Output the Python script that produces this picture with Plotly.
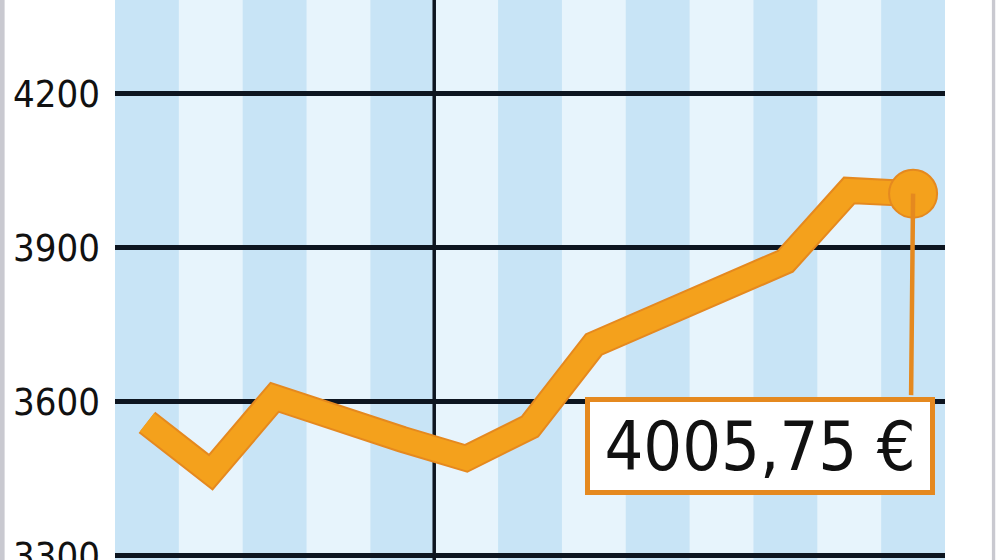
import plotly.graph_objects as go

# 13 periods, year break after the 5th
periods = ["P1", "P2", "P3", "P4", "P5", "P6", "P7", "P8", "P9", "P10", "P11", "P12", "P13"]
values = [3560, 3463, 3609, 3564, 3527, 3490, 3552, 3712, 3768, 3819, 3874, 4012, 4005.75]
last_label = "4005,75 €"
year_break_after = 4
y_ticks = [3300, 3600, 3900, 4200]
y_range = [3292, 4383]

orange = "#f4a11c"
orange_dark = "#e5891f"
stripe_dark = "#c8e4f6"
stripe_light = "#e7f4fc"
font_narrow = "Liberation Sans Narrow, DejaVu Sans Condensed, Arial Narrow, sans-serif"

xs = list(range(len(periods)))

fig = go.Figure()

# outline + inner line
fig.add_trace(go.Scatter(x=xs, y=values, mode="lines",
                         line=dict(color=orange_dark, width=27), hoverinfo="skip"))
fig.add_trace(go.Scatter(x=xs, y=values, mode="lines",
                         line=dict(color=orange, width=23), hoverinfo="skip"))
fig.add_trace(go.Scatter(x=[xs[-1]], y=[values[-1]], mode="markers",
                         marker=dict(size=48, color=orange, line=dict(color=orange_dark, width=2)),
                         hoverinfo="skip"))

# alternating stripes, one per period
shapes = []
for i in xs:
    if i % 2 == 0:
        shapes.append(dict(type="rect", xref="x", yref="paper", x0=i - 0.5, x1=i + 0.5,
                           y0=0, y1=1, fillcolor=stripe_dark, line=dict(width=0), layer="below"))

# year separator
shapes.append(dict(type="line", xref="x", yref="paper", x0=year_break_after + 0.5,
                   x1=year_break_after + 0.5, y0=0, y1=1,
                   line=dict(color="#0d1520", width=3.5), layer="between"))

# image frame edges
shapes.append(dict(type="rect", xref="paper", yref="paper", x0=-0.139, x1=-0.133, y0=-0.05, y1=1.05,
                   fillcolor="#c9c9d0", line=dict(width=0), layer="above"))
shapes.append(dict(type="rect", xref="paper", yref="paper", x0=1.0565, x1=1.0605, y0=-0.05, y1=1.05,
                   fillcolor="#c9c9d0", line=dict(width=0), layer="above"))

annotations = [
    # connector from the last point down to the label box
    dict(x=xs[-1], y=values[-1], xref="x", yref="y", text="", showarrow=True,
         arrowhead=0, arrowwidth=4.5, arrowcolor=orange_dark, ax=-2, ay=203, standoff=0),
    dict(x=xs[-1], y=values[-1], xref="x", yref="y", text=last_label, showarrow=False,
         xanchor="right", yanchor="top", xshift=22, yshift=-203,
         font=dict(family=font_narrow, size=68, color="#111111"),
         bgcolor="white", bordercolor=orange_dark, borderwidth=5,
         width=338, height=86, align="center", valign="middle"),
]

fig.update_layout(
    width=1000, height=560,
    margin=dict(l=115, r=55, t=0, b=0, autoexpand=False),
    paper_bgcolor="white",
    plot_bgcolor=stripe_light,
    showlegend=False,
    shapes=shapes,
    annotations=annotations,
    xaxis=dict(range=[-0.5, len(periods) - 0.5], showgrid=False, zeroline=False,
               showticklabels=False, fixedrange=True, automargin=False),
    yaxis=dict(range=y_range, tickvals=y_ticks, showgrid=True, gridcolor="#0d1520",
               gridwidth=5, zeroline=False, ticklabelstandoff=14, ticklabeloverflow="allow",
               automargin=False,
               tickfont=dict(family=font_narrow, size=38, color="#111111")),
)

fig.write_html("out.html", config={"displayModeBar": False},
               post_script="document.body.style.margin='0';")
